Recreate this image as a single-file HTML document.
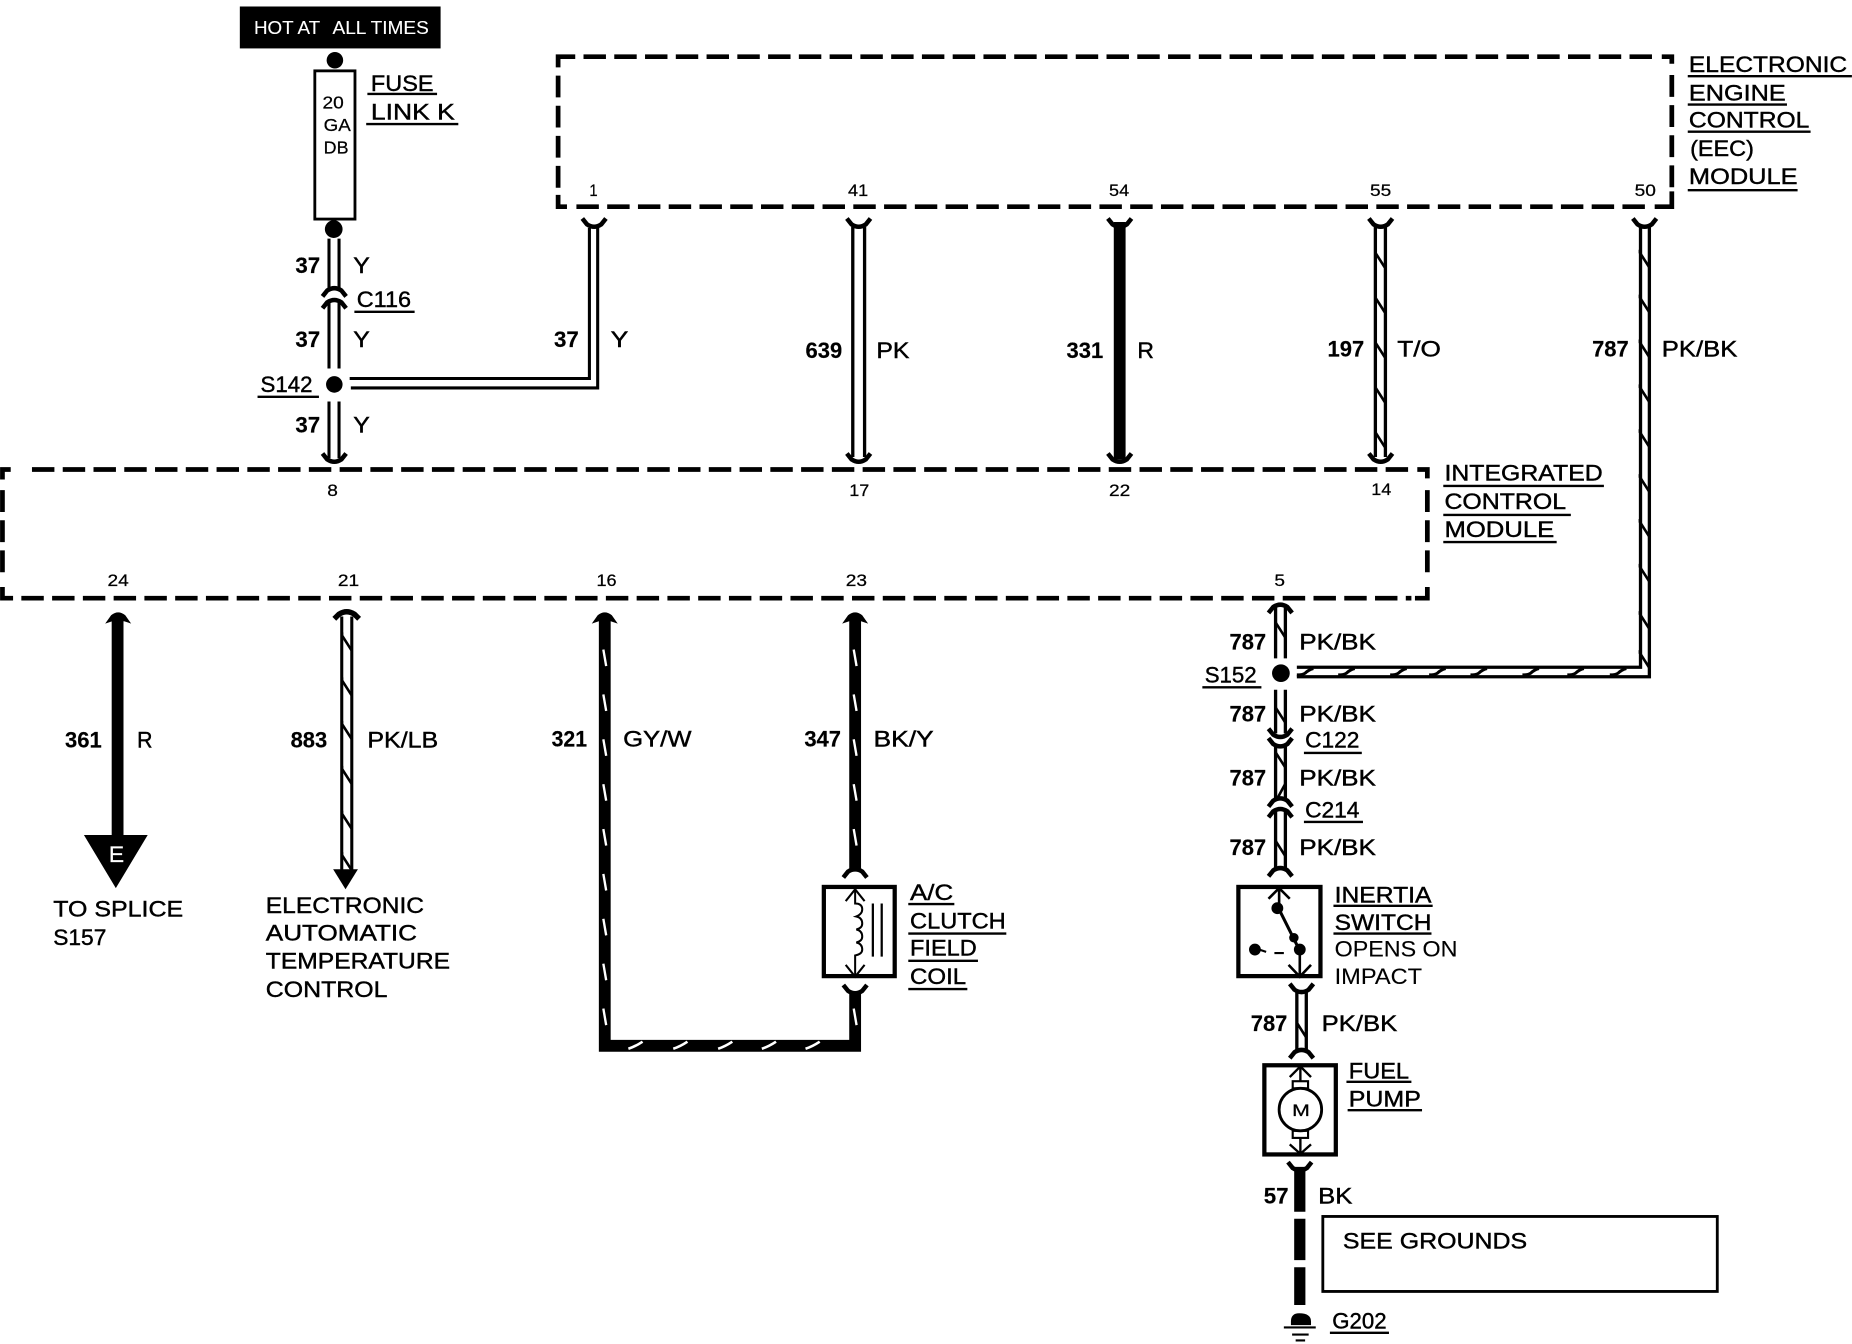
<!DOCTYPE html>
<html><head><meta charset="utf-8"><style>
html,body{margin:0;padding:0;background:#fff}
svg{display:block}
text{font-family:"Liberation Sans",sans-serif;font-size:18.5px;fill:#000;stroke:#000;stroke-width:.35}
.b{font-weight:bold;stroke-width:.15}
.n{font-size:14px;stroke-width:.2}
.w{fill:#fff;stroke:#fff}
.l{stroke:#000;stroke-width:2.6;fill:none}
.d{stroke:#000;stroke-width:2.8;fill:none}
.t{stroke:#000;stroke-width:10;fill:none}
.u{stroke:#000;stroke-width:2;fill:none}
.box{stroke:#000;stroke-width:3.6;fill:none}
.dh{stroke:#000;stroke-width:4;fill:none;stroke-dasharray:19 7.05}
.dv{stroke:#000;stroke-width:4;fill:none;stroke-dasharray:18.5 7}
.c{stroke:#000;stroke-width:4;fill:none}
</style></head><body>
<svg xmlns="http://www.w3.org/2000/svg" width="1852" height="1344" viewBox="0 0 1568 1138">
<defs>
<path id="cd" d="M-10,-5 L-6,0 Q0,4 6,0 L10,-5" fill="none" stroke="#000" stroke-width="3.8"/>
<path id="cu" d="M-10,5 L-6,0 Q0,-4 6,0 L10,5" fill="none" stroke="#000" stroke-width="3.8"/>
<path id="sv" d="M-4,-7.5 V-5 L4,7.5" fill="none" stroke="#000" stroke-width="2.2"/>
<path id="sw" d="M-1.2,-7 L1.2,7" fill="none" stroke="#fff" stroke-width="2"/>
<path id="sh" d="M-7,2.5 Q-2,2.5 0,1 Q3,-2 7,-3" fill="none" stroke="#000" stroke-width="2.6"/>
<path id="swh" d="M-6,3 Q0,1 6,-3" fill="none" stroke="#fff" stroke-width="2.2"/>
<path id="au" d="M-11,7 L-6,0 Q0,-5 6,0 L11,7 L5,5 L-5,5 Z" fill="#000"/>
</defs>
<rect width="1568" height="1138" fill="#fff"/>

<!-- hot at all times -->
<rect x="203" y="5.5" width="170" height="35.5" fill="#000"/>
<text class="w" style="font-size:16px;stroke-width:.1" x="215" y="29" textLength="56" lengthAdjust="spacingAndGlyphs">HOT AT</text>
<text class="w" style="font-size:16px;stroke-width:.1" x="281.5" y="29" textLength="81.5" lengthAdjust="spacingAndGlyphs">ALL TIMES</text>

<!-- fuse -->
<circle cx="283.5" cy="51" r="7"/>
<rect x="266.5" y="60" width="34" height="125.5" fill="none" stroke="#000" stroke-width="2.4"/>
<text class="n" style="font-size:15px" x="273" y="92" textLength="18" lengthAdjust="spacingAndGlyphs">20</text>
<text class="n" style="font-size:15px" x="274" y="111" textLength="23" lengthAdjust="spacingAndGlyphs">GA</text>
<text class="n" style="font-size:15px" x="274" y="130" textLength="21" lengthAdjust="spacingAndGlyphs">DB</text>
<circle cx="282.5" cy="194" r="7.5"/>
<text x="314" y="77" textLength="53" lengthAdjust="spacingAndGlyphs">FUSE</text><path class="u" d="M311,79.5H370"/>
<text x="314" y="101" textLength="71" lengthAdjust="spacingAndGlyphs">LINK K</text><path class="u" d="M310,105H388"/>

<!-- wire 37 column -->
<path class="l" d="M278.5,202V245M287,202V245M278.5,256V312M287,256V312M278.5,340V388M287,340V388"/>
<use href="#cu" x="283" y="246"/>
<use href="#cu" x="283" y="256"/>
<use href="#cd" x="283" y="389"/>
<text class="b" x="250" y="231" textLength="21" lengthAdjust="spacingAndGlyphs">37</text><text x="299" y="231" textLength="14" lengthAdjust="spacingAndGlyphs">Y</text>
<text class="b" x="250" y="294" textLength="21" lengthAdjust="spacingAndGlyphs">37</text><text x="299" y="294" textLength="14" lengthAdjust="spacingAndGlyphs">Y</text>
<text class="b" x="250" y="366" textLength="21" lengthAdjust="spacingAndGlyphs">37</text><text x="299" y="366" textLength="14" lengthAdjust="spacingAndGlyphs">Y</text>
<text x="302" y="260" textLength="46" lengthAdjust="spacingAndGlyphs">C116</text><path class="u" d="M300,264H351"/>
<circle cx="283" cy="325.5" r="7"/>
<text x="220.5" y="332" textLength="44" lengthAdjust="spacingAndGlyphs">S142</text><path class="u" d="M218,336H270"/>
<path class="l" d="M296,320.5H499V193M297,328.5H506V193"/>
<use href="#cd" x="503" y="190"/>
<text class="b" x="469" y="294" textLength="21" lengthAdjust="spacingAndGlyphs">37</text><text x="517" y="294" textLength="15" lengthAdjust="spacingAndGlyphs">Y</text>

<!-- EEC module -->
<path class="dh" d="M494,48H1400"/>
<path class="dh" d="M488,175H1396"/>
<path class="dv" d="M472.5,64V160"/>
<path class="dv" d="M1415.5,63.5V160"/>
<path class="c" d="M472.5,57V48H487M1407,48H1415.5V54M472.5,165V175H480M1401,175H1415.5V162"/>
<text class="n" x="499" y="166" textLength="7" lengthAdjust="spacingAndGlyphs">1</text>
<text class="n" x="718" y="166" textLength="17" lengthAdjust="spacingAndGlyphs">41</text>
<text class="n" x="939" y="166" textLength="17" lengthAdjust="spacingAndGlyphs">54</text>
<text class="n" x="1160" y="166" textLength="18" lengthAdjust="spacingAndGlyphs">55</text>
<text class="n" x="1384" y="166" textLength="18" lengthAdjust="spacingAndGlyphs">50</text>
<text x="1430" y="61" textLength="134" lengthAdjust="spacingAndGlyphs">ELECTRONIC</text><path class="u" d="M1429,64.5H1568"/>
<text x="1430" y="85" textLength="82" lengthAdjust="spacingAndGlyphs">ENGINE</text><path class="u" d="M1429,88.5H1513"/>
<text x="1430" y="108" textLength="102" lengthAdjust="spacingAndGlyphs">CONTROL</text><path class="u" d="M1429,111.5H1533"/>
<text x="1431" y="132" textLength="54" lengthAdjust="spacingAndGlyphs">(EEC)</text>
<text x="1430" y="156" textLength="92" lengthAdjust="spacingAndGlyphs">MODULE</text><path class="u" d="M1429,161H1522"/>

<!-- 639 -->
<path class="d" d="M722,192V387M732,192V387"/>
<use href="#cd" x="727" y="190"/><use href="#cd" x="727" y="389"/>
<text class="b" x="682" y="303" textLength="31" lengthAdjust="spacingAndGlyphs">639</text><text x="742" y="303" textLength="28" lengthAdjust="spacingAndGlyphs">PK</text>
<!-- 331 -->
<path class="t" d="M948,188V389"/>
<use href="#cd" x="948" y="190"/><use href="#cd" x="948" y="389"/>
<text class="b" x="903" y="303" textLength="31" lengthAdjust="spacingAndGlyphs">331</text><text x="963" y="303" textLength="14" lengthAdjust="spacingAndGlyphs">R</text>
<!-- 197 -->
<path class="d" d="M1164.5,192V387M1173,192V387"/>
<use href="#cd" x="1169" y="190"/><use href="#cd" x="1169" y="389"/>
<use href="#sv" x="1168.5" y="219"/><use href="#sv" x="1168.5" y="257"/><use href="#sv" x="1168.5" y="295"/><use href="#sv" x="1168.5" y="333"/><use href="#sv" x="1168.5" y="371"/>
<text class="b" x="1124" y="302" textLength="31" lengthAdjust="spacingAndGlyphs">197</text><text x="1183" y="302" textLength="37" lengthAdjust="spacingAndGlyphs">T/O</text>
<!-- 787 long -->
<path class="d" d="M1389,192V565H1098M1396.5,192V573H1098"/>
<use href="#cd" x="1392.5" y="190"/>
<use href="#sv" x="1392.5" y="219"/><use href="#sv" x="1392.5" y="257"/><use href="#sv" x="1392.5" y="295"/><use href="#sv" x="1392.5" y="333"/><use href="#sv" x="1392.5" y="371"/><use href="#sv" x="1392.5" y="409"/><use href="#sv" x="1392.5" y="447"/><use href="#sv" x="1392.5" y="485"/><use href="#sv" x="1392.5" y="525"/><use href="#sv" x="1392.5" y="558"/>
<use href="#sh" x="1105" y="569"/><use href="#sh" x="1140" y="569"/><use href="#sh" x="1184" y="569"/><use href="#sh" x="1217" y="569"/><use href="#sh" x="1252" y="569"/><use href="#sh" x="1296" y="569"/><use href="#sh" x="1334" y="569"/><use href="#sh" x="1370" y="569"/>
<text class="b" x="1348" y="302" textLength="31" lengthAdjust="spacingAndGlyphs">787</text><text x="1407" y="302" textLength="64" lengthAdjust="spacingAndGlyphs">PK/BK</text>

<!-- ICM -->
<path class="dh" d="M27,397.5H1193"/>
<path class="dh" d="M18,506.5H1195"/>
<path class="dv" d="M2,415V490"/>
<path class="dv" d="M1208.5,415V490"/>
<path class="c" d="M2,406V397.5H9M1200,397.5H1208.5V405M2,497V506.5H11M1198,506.5H1208.5V497"/>
<text class="n" x="277" y="420" textLength="9" lengthAdjust="spacingAndGlyphs">8</text>
<text class="n" x="719" y="420" textLength="17" lengthAdjust="spacingAndGlyphs">17</text>
<text class="n" x="939" y="420" textLength="18" lengthAdjust="spacingAndGlyphs">22</text>
<text class="n" x="1161" y="419" textLength="17" lengthAdjust="spacingAndGlyphs">14</text>
<text class="n" x="91" y="496" textLength="18" lengthAdjust="spacingAndGlyphs">24</text>
<text class="n" x="286" y="496" textLength="18" lengthAdjust="spacingAndGlyphs">21</text>
<text class="n" x="505" y="496" textLength="17" lengthAdjust="spacingAndGlyphs">16</text>
<text class="n" x="716" y="496" textLength="18" lengthAdjust="spacingAndGlyphs">23</text>
<text class="n" x="1079" y="496" textLength="9" lengthAdjust="spacingAndGlyphs">5</text>
<text x="1223" y="407" textLength="134" lengthAdjust="spacingAndGlyphs">INTEGRATED</text><path class="u" d="M1222,411.5H1358"/>
<text x="1223" y="431" textLength="103" lengthAdjust="spacingAndGlyphs">CONTROL</text><path class="u" d="M1222,436H1330"/>
<text x="1223" y="454.5" textLength="93" lengthAdjust="spacingAndGlyphs">MODULE</text><path class="u" d="M1222,459H1318"/>

<!-- 361 -->
<path class="t" d="M99.5,522V712"/>
<use href="#au" x="100" y="521"/>
<path d="M71,707H125L98,752Z" fill="#000"/>
<text class="w" style="font-size:19px;stroke-width:.2" x="92" y="730" textLength="13" lengthAdjust="spacingAndGlyphs">E</text>
<text class="b" x="55" y="633" textLength="31" lengthAdjust="spacingAndGlyphs">361</text><text x="116" y="633" textLength="13" lengthAdjust="spacingAndGlyphs">R</text>
<text x="45" y="776" textLength="110" lengthAdjust="spacingAndGlyphs">TO SPLICE</text>
<text x="45" y="800" textLength="45" lengthAdjust="spacingAndGlyphs">S157</text>

<!-- 883 -->
<path class="l" d="M289.3,522V738M297.8,522V738"/>
<path d="M283,524 L287,520 Q293.5,516 300,520 L304,524" fill="none" stroke="#000" stroke-width="4.6"/>
<path d="M282,736H303L292.5,753Z" fill="#000"/>
<use href="#sv" x="293.5" y="543"/><use href="#sv" x="293.5" y="581"/><use href="#sv" x="293.5" y="618"/><use href="#sv" x="293.5" y="656"/><use href="#sv" x="293.5" y="694"/><use href="#sv" x="293.5" y="729"/>
<text class="b" x="246" y="633" textLength="31" lengthAdjust="spacingAndGlyphs">883</text><text x="311" y="633" textLength="60" lengthAdjust="spacingAndGlyphs">PK/LB</text>
<text x="225" y="773" textLength="134" lengthAdjust="spacingAndGlyphs">ELECTRONIC</text>
<text x="225" y="796.5" textLength="128" lengthAdjust="spacingAndGlyphs">AUTOMATIC</text>
<text x="225" y="820" textLength="156" lengthAdjust="spacingAndGlyphs">TEMPERATURE</text>
<text x="225" y="844" textLength="103" lengthAdjust="spacingAndGlyphs">CONTROL</text>

<!-- 321 / 347 -->
<path class="t" d="M512,524V885.5H724V840"/>
<path class="t" d="M724,524V738"/>
<use href="#au" x="512" y="521"/><use href="#au" x="724" y="521"/>
<use href="#cu" x="724" y="738"/>
<use href="#cd" x="724" y="839"/>
<g>
<use href="#sw" x="512" y="557"/><use href="#sw" x="512" y="595"/><use href="#sw" x="512" y="633"/><use href="#sw" x="512" y="671"/><use href="#sw" x="512" y="709"/><use href="#sw" x="512" y="747"/><use href="#sw" x="512" y="785"/><use href="#sw" x="512" y="823"/><use href="#sw" x="512" y="861"/>
<use href="#sw" x="724" y="557"/><use href="#sw" x="724" y="595"/><use href="#sw" x="724" y="633"/><use href="#sw" x="724" y="671"/><use href="#sw" x="724" y="709"/><use href="#sw" x="724" y="861"/>
<use href="#swh" x="538" y="885"/><use href="#swh" x="576" y="885"/><use href="#swh" x="614" y="885"/><use href="#swh" x="651" y="885"/><use href="#swh" x="688" y="885"/>
</g>
<text class="b" x="467" y="632" textLength="30" lengthAdjust="spacingAndGlyphs">321</text><text x="527.5" y="632" textLength="58" lengthAdjust="spacingAndGlyphs">GY/W</text>
<text class="b" x="681" y="632" textLength="31" lengthAdjust="spacingAndGlyphs">347</text><text x="739.5" y="632" textLength="51" lengthAdjust="spacingAndGlyphs">BK/Y</text>

<!-- AC clutch -->
<rect x="697.5" y="751" width="60" height="75.5" class="box"/>
<path d="M724,753V765q6,0 6,5q0,4 -5,6q5,1 5,6q0,4 -5,5q5,1 5,6q0,4 -5,5q5,1 5,6q0,4 -6,5V826" fill="none" stroke="#000" stroke-width="1.7"/>
<path d="M716,763L724,753L732,763M716,817L724,827L732,817" fill="none" stroke="#000" stroke-width="1.8"/>
<path d="M739,765V810M746.5,765V810" stroke="#000" stroke-width="1.9" fill="none"/>
<text x="770.5" y="762" textLength="36.5" lengthAdjust="spacingAndGlyphs">A/C</text><path class="u" d="M769,765.5H808"/>
<text x="770.5" y="786" textLength="81" lengthAdjust="spacingAndGlyphs">CLUTCH</text><path class="u" d="M769,790.5H852"/>
<text x="770.5" y="809" textLength="56.5" lengthAdjust="spacingAndGlyphs">FIELD</text><path class="u" d="M769,813.5H828"/>
<text x="770.5" y="833" textLength="47.5" lengthAdjust="spacingAndGlyphs">COIL</text><path class="u" d="M769,837.5H819"/>

<!-- 787 lower -->
<path class="d" d="M1080,514V557.5M1088.3,514V557.5M1080,584V621M1088.3,584V621M1080,632V677M1088.3,632V677M1080,686V736M1088.3,686V736"/>
<use href="#cu" x="1084" y="514"/>
<use href="#cd" x="1084" y="622"/><use href="#cd" x="1084" y="630"/>
<use href="#cu" x="1084" y="678"/><use href="#cu" x="1084" y="687"/>
<use href="#cu" x="1084" y="737"/>
<use href="#sv" x="1084" y="532"/><use href="#sv" x="1084" y="604"/><use href="#sv" x="1084" y="642"/>
<path d="M1088,664L1081,677" stroke="#000" stroke-width="2.2" fill="none"/>
<use href="#sv" x="1084" y="717"/>
<circle cx="1084.5" cy="570" r="7.5"/>
<text class="b" x="1041" y="550" textLength="31" lengthAdjust="spacingAndGlyphs">787</text><text x="1100" y="550" textLength="65" lengthAdjust="spacingAndGlyphs">PK/BK</text>
<text class="b" x="1041" y="611" textLength="31" lengthAdjust="spacingAndGlyphs">787</text><text x="1100" y="611" textLength="65" lengthAdjust="spacingAndGlyphs">PK/BK</text>
<text class="b" x="1041" y="665" textLength="31" lengthAdjust="spacingAndGlyphs">787</text><text x="1100" y="665" textLength="65" lengthAdjust="spacingAndGlyphs">PK/BK</text>
<text class="b" x="1041" y="724" textLength="31" lengthAdjust="spacingAndGlyphs">787</text><text x="1100" y="724" textLength="65" lengthAdjust="spacingAndGlyphs">PK/BK</text>
<text x="1020" y="578" textLength="44" lengthAdjust="spacingAndGlyphs">S152</text><path class="u" d="M1018,582H1068"/>
<text x="1105" y="633" textLength="46" lengthAdjust="spacingAndGlyphs">C122</text><path class="u" d="M1104,637.5H1153"/>
<text x="1105" y="692" textLength="46" lengthAdjust="spacingAndGlyphs">C214</text><path class="u" d="M1104,696H1154"/>

<!-- inertia switch -->
<rect x="1048.5" y="751" width="69.5" height="75.5" class="box"/>
<path d="M1083,752V768M1074,761L1083,752L1092,761" fill="none" stroke="#000" stroke-width="2.2"/>
<path d="M1082,768L1100,804" stroke="#000" stroke-width="2.6"/>
<circle cx="1081.5" cy="769" r="5"/><circle cx="1095.5" cy="794" r="4"/><circle cx="1100.5" cy="804" r="5"/><circle cx="1062.5" cy="804" r="5"/>
<path d="M1100.5,804V826M1091,817L1100.5,827L1110,817" fill="none" stroke="#000" stroke-width="2.2"/>
<path d="M1066,804L1072,806M1079,807H1087" stroke="#000" stroke-width="1.8"/>
<text x="1130" y="764" textLength="82" lengthAdjust="spacingAndGlyphs">INERTIA</text><path class="u" d="M1129,767H1213"/>
<text x="1130" y="787.5" textLength="82" lengthAdjust="spacingAndGlyphs">SWITCH</text><path class="u" d="M1129,790.5H1212"/>
<text x="1130" y="810" textLength="104" lengthAdjust="spacingAndGlyphs" style="stroke-width:.1">OPENS ON</text>
<text x="1130" y="833" textLength="74" lengthAdjust="spacingAndGlyphs" style="stroke-width:.1">IMPACT</text>

<!-- 787 to pump -->
<path class="d" d="M1098,840V891M1106,840V891"/>
<use href="#cd" x="1102" y="838"/><use href="#cu" x="1102" y="891"/>
<use href="#sv" x="1102" y="871"/>
<text class="b" x="1059" y="873" textLength="31" lengthAdjust="spacingAndGlyphs">787</text><text x="1119" y="873" textLength="64" lengthAdjust="spacingAndGlyphs">PK/BK</text>

<!-- fuel pump -->
<rect x="1070.5" y="902" width="60.5" height="75.5" class="box"/>
<path d="M1101,903V916M1092,912L1101,903L1110,912M1101,963V977M1092,969L1101,977L1110,969" fill="none" stroke="#000" stroke-width="2"/>
<rect x="1094.5" y="915.5" width="13" height="6" fill="#fff" stroke="#000" stroke-width="1.8"/>
<rect x="1094.5" y="957.5" width="13" height="6" fill="#fff" stroke="#000" stroke-width="1.8"/>
<ellipse cx="1101" cy="939.5" rx="18" ry="18" fill="#fff" stroke="#000" stroke-width="2.4"/>
<text class="n" style="font-size:14px" x="1094" y="945" textLength="15" lengthAdjust="spacingAndGlyphs">M</text>
<text x="1142" y="913" textLength="51" lengthAdjust="spacingAndGlyphs">FUEL</text><path class="u" d="M1140,916H1195"/>
<text x="1142" y="937" textLength="61" lengthAdjust="spacingAndGlyphs">PUMP</text><path class="u" d="M1141,940H1204"/>

<!-- 57 -->
<path d="M1100.5,988V1026M1100.5,1032V1067M1100.5,1073V1105" stroke="#000" stroke-width="9.5" fill="none"/>
<use href="#cd" x="1100.5" y="989"/>
<text class="b" x="1070" y="1019" textLength="21" lengthAdjust="spacingAndGlyphs">57</text><text x="1116" y="1019" textLength="29" lengthAdjust="spacingAndGlyphs">BK</text>
<rect x="1120" y="1030" width="334" height="63.5" fill="none" stroke="#000" stroke-width="2.4"/>
<text x="1137" y="1057" textLength="156" lengthAdjust="spacingAndGlyphs">SEE GROUNDS</text>

<!-- ground -->
<path d="M1093,1122V1119Q1093,1112 1100,1112Q1110,1112 1110,1119V1122Z" fill="#000"/>
<path d="M1087,1124H1114M1094,1130H1108M1097,1135H1105" stroke="#000" stroke-width="1.8" fill="none"/>
<text x="1128" y="1125" textLength="46" lengthAdjust="spacingAndGlyphs">G202</text><path class="u" d="M1126,1128.5H1176"/>
</svg>
</body></html>
